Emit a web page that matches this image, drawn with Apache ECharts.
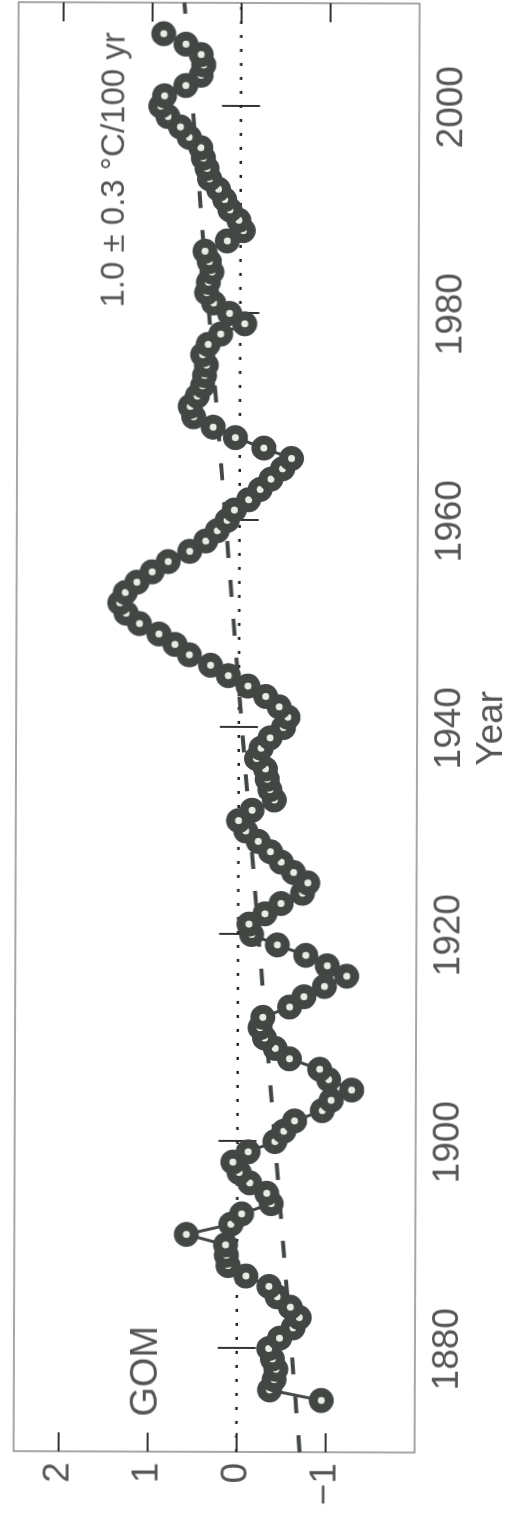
<!DOCTYPE html>
<html>
<head>
<meta charset="utf-8">
<script src="https://cdn.jsdelivr.net/npm/echarts@6/dist/echarts.min.js"></script>
<style>
  html, body { margin: 0; padding: 0; background: #ffffff; overflow: hidden; }
  #page {
    position: relative; width: 513px; height: 1517px; overflow: hidden;
    transform-origin: 50% 50%;
    transform: translate(2px, 0px) rotate(0.2deg);
  }
  /* the chart is laid out landscape and turned a quarter turn counter-clockwise */
  #chart {
    position: absolute; left: 0; top: 0;
    width: 1517px; height: 513px;
    transform-origin: 0 0;
    transform: translate(0px, 1517px) rotate(-90deg);
  }
</style>
</head>
<body>
<div id="page"><div id="chart"></div></div>
<script>
// Gulf of Maine temperature anomaly (°C), one value per year
const years = [
  1875, 1876, 1877, 1878, 1879, 1880, 1881, 1882, 1883, 1884,
  1885, 1886, 1887, 1888, 1889, 1890, 1891, 1892, 1893, 1894,
  1895, 1896, 1897, 1898, 1899, 1900, 1901, 1902, 1903, 1904,
  1905, 1906, 1907, 1908, 1909, 1910, 1911, 1912, 1913, 1914,
  1915, 1916, 1917, 1918, 1919, 1920, 1921, 1922, 1923, 1924,
  1925, 1926, 1927, 1928, 1929, 1930, 1931, 1932, 1933, 1934,
  1935, 1936, 1937, 1938, 1939, 1940, 1941, 1942, 1943, 1944,
  1945, 1946, 1947, 1948, 1949, 1950, 1951, 1952, 1953, 1954,
  1955, 1956, 1957, 1958, 1959, 1960, 1961, 1962, 1963, 1964,
  1965, 1966, 1967, 1968, 1969, 1970, 1971, 1972, 1973, 1974,
  1975, 1976, 1977, 1978, 1979, 1980, 1981, 1982, 1983, 1984,
  1985, 1986, 1987, 1988, 1989, 1990, 1991, 1992, 1993, 1994,
  1995, 1996, 1997, 1998, 1999, 2000, 2001, 2002, 2003, 2004,
  2005, 2006, 2007
];
const anomaly = [
  -0.95, -0.37, -0.42, -0.44, -0.40, -0.36, -0.48, -0.63, -0.70, -0.60,
  -0.45, -0.36, -0.10,  0.10,  0.12,  0.13,  0.57,  0.07, -0.05, -0.38,
  -0.33, -0.14, -0.02,  0.05, -0.12, -0.42, -0.52, -0.64, -0.95, -1.05,
  -1.28, -1.02, -0.92, -0.58, -0.42, -0.30, -0.25, -0.28, -0.58, -0.74,
  -0.97, -1.22, -1.00, -0.76, -0.44, -0.15, -0.12, -0.30, -0.48, -0.72,
  -0.78, -0.62, -0.48, -0.36, -0.22, -0.08,  0.00, -0.15, -0.40, -0.35,
  -0.32, -0.30, -0.20, -0.25, -0.35, -0.50, -0.55, -0.45, -0.30, -0.10,
   0.12,  0.32,  0.56,  0.72,  0.90,  1.12,  1.27,  1.34,  1.28,  1.15,
   0.98,  0.80,  0.56,  0.38,  0.25,  0.14,  0.06, -0.10, -0.23, -0.35,
  -0.48, -0.58, -0.27,  0.05,  0.30,  0.52,  0.56,  0.48,  0.42,  0.40,
   0.38,  0.42,  0.36,  0.22, -0.05,  0.12,  0.30,  0.38,  0.36,  0.32,
   0.35,  0.40,  0.15, -0.03,  0.02,  0.12,  0.18,  0.25,  0.35,  0.38,
   0.42,  0.45,  0.58,  0.68,  0.82,  0.90,  0.86,  0.62,  0.45,  0.42,
   0.45,  0.62,  0.87
];

// linear trend (1.0 °C per century) at the ends of the time axis
const trendYears = [1870, 2010];
const trendValues = [-0.71, 0.64];

// zero reference
const zeroYears = [1870, 2010];
const zeroValues = [0, 0];

// axis ranges and ticks
const yearRange = [1870, 2010];
const yearTicks = [1880, 1900, 1920, 1940, 1960, 1980, 2000];
const valueRange = [-2, 2.5];
const valueTicks = [-1, 0, 1, 2];

const regionLabel = 'GOM';
const trendLabel = '1.0 \u00b1 0.3 \u00b0C/100 yr';
const yearName = 'Year';

const ink = '#424744';
const textGray = '#555555';
const fontFamily = '"Liberation Sans", Arial, Helvetica, sans-serif';

const pairs = (xs, ys) => xs.map((x, i) => [x, ys[i]]);
const fmtValue = v => (v < 0 ? '\u2212' + Math.abs(v) : String(v));
const fmtYear = v => String(v);

const tickStyle = { show: true, inside: true, length: 19, lineStyle: { color: '#333', width: 2 } };

const chart = echarts.init(document.getElementById('chart'), null, { renderer: 'canvas' });

chart.setOption({
  backgroundColor: '#ffffff',
  animation: false,
  grid: {
    left: 65, right: 3, top: 14, bottom: 90,
    show: true, borderColor: '#8a8a8a', borderWidth: 1.5, backgroundColor: 'transparent'
  },
  xAxis: [
    {
      type: 'value', position: 'bottom',
      min: yearRange[0], max: yearRange[1],
      axisLine: { show: false },
      splitLine: { show: false },
      axisTick: Object.assign({ customValues: yearTicks }, tickStyle),
      axisLabel: {
        customValues: yearTicks, margin: 14, formatter: fmtYear,
        fontSize: 37, color: textGray, fontFamily: fontFamily
      },
      name: yearName, nameLocation: 'middle', nameGap: 56,
      nameTextStyle: { fontSize: 37, color: textGray, fontFamily: fontFamily }
    },
    {
      type: 'value', position: 'top',
      min: yearRange[0], max: yearRange[1],
      axisLine: { show: false },
      splitLine: { show: false },
      axisTick: Object.assign({ customValues: yearTicks }, tickStyle),
      axisLabel: { show: false }
    }
  ],
  yAxis: [
    {
      type: 'value', position: 'left',
      min: valueRange[0], max: valueRange[1],
      axisLine: { show: false },
      splitLine: { show: false },
      axisTick: Object.assign({ customValues: valueTicks }, tickStyle),
      axisLabel: {
        customValues: valueTicks, margin: 11,
        fontSize: 37, color: textGray, fontFamily: fontFamily,
        formatter: fmtValue
      }
    },
    {
      type: 'value', position: 'right',
      min: valueRange[0], max: valueRange[1],
      axisLine: { show: false },
      splitLine: { show: false },
      axisTick: Object.assign({ customValues: valueTicks }, tickStyle),
      axisLabel: { show: false }
    }
  ],
  series: [
    {
      type: 'line', name: 'zero',
      data: pairs(zeroYears, zeroValues),
      symbol: 'none', silent: true, z: 1,
      lineStyle: { color: '#222', width: 2.5, type: [3, 11] }
    },
    {
      type: 'line', name: 'trend',
      data: pairs(trendYears, trendValues),
      symbol: 'none', silent: true, z: 2,
      lineStyle: { color: ink, width: 4, type: [17, 22] }
    },
    {
      type: 'line', name: 'anomaly',
      data: pairs(years, anomaly),
      symbol: 'circle', symbolSize: 16, z: 3,
      lineStyle: { color: ink, width: 3 },
      itemStyle: { color: '#e9ebe7', borderColor: ink, borderWidth: 9 }
    }
  ],
  graphic: [
    {
      type: 'text', left: 100, top: 128,
      style: { text: regionLabel, fontSize: 38, fill: textGray, fontFamily: fontFamily }
    },
    {
      type: 'text', left: 1209, top: 94,
      style: { text: trendLabel, fontSize: 33, fill: textGray, fontFamily: fontFamily }
    }
  ]
});
</script>
</body>
</html>
